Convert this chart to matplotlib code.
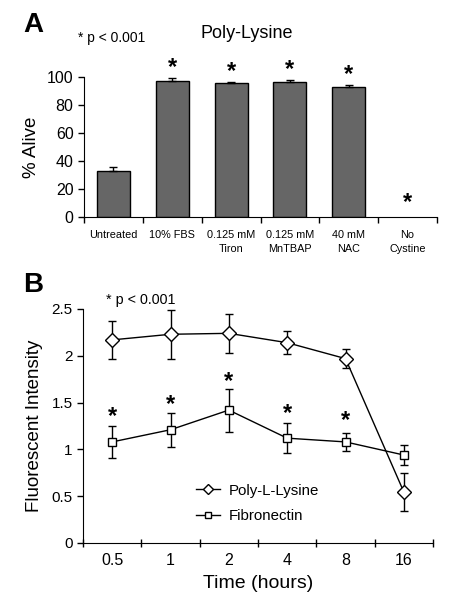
import matplotlib
matplotlib.use("Agg")
import matplotlib.pyplot as plt
from matplotlib.lines import Line2D
import numpy as np

plt.rcParams['font.family'] = ['Liberation Sans', 'DejaVu Sans']

# Panel A data
categories = ["Untreated", "10% FBS", "0.125 mM\nTiron", "0.125 mM\nMnTBAP", "40 mM\nNAC", "No\nCystine"]
alive = [33, 97.5, 95.5, 96.5, 93, 0]
alive_err = [3, 1.5, 0.6, 1.2, 1.5, 0]
alive_star = [None, 107, 103.6, 105, 102, 10]

# Panel B data
times = ["0.5", "1", "2", "4", "8", "16"]
pll = [2.17, 2.23, 2.24, 2.14, 1.97, 0.545]
pll_err = [0.20, 0.26, 0.21, 0.12, 0.10, 0.20]
fib = [1.08, 1.21, 1.42, 1.12, 1.08, 0.94]
fib_err = [0.17, 0.18, 0.23, 0.16, 0.10, 0.11]
fib_star = [1.35, 1.48, 1.73, 1.38, 1.31, None]

W, H = 455, 601
fig = plt.figure(figsize=(W/100, H/100), dpi=100)

def fx(px): return px / W
def fy(py): return 1 - py / H

# ---------------- Panel A ----------------
axA = fig.add_axes([fx(84), fy(217), fx(437) - fx(84), fy(77) - fy(217)])
x = np.arange(len(categories))
edges = ['black' if v > 0 else 'none' for v in alive]
axA.bar(x, alive, width=0.56, color='#666666', edgecolor=edges, linewidth=1.0, zorder=2)
idx = [i for i, e in enumerate(alive_err) if e > 0]
axA.errorbar([x[i] for i in idx], [alive[i] for i in idx],
             yerr=[np.zeros(len(idx)), [alive_err[i] for i in idx]], fmt='none', ecolor='black',
             elinewidth=1.0, capsize=3, capthick=1.0, zorder=3)
for xi, s in zip(x, alive_star):
    if s is not None:
        axA.text(xi, s, "*", ha='center', va='center', fontsize=17, fontweight='bold', clip_on=False)
axA.set_xlim(-0.5, len(categories) - 0.5)
axA.set_ylim(0, 100)
axA.set_yticks([0, 20, 40, 60, 80, 100])
axA.tick_params(axis='y', labelsize=11.5, direction='out', length=4, width=1)
axA.set_xticks(np.arange(-0.5, len(categories), 1.0))
axA.set_xticklabels([])
axA.tick_params(axis='x', which='major', direction='out', length=4, width=1)
axA.set_xticks(x, minor=True)
axA.set_xticklabels(categories, minor=True, fontsize=7.8, linespacing=1.55)
axA.tick_params(axis='x', which='minor', length=0, pad=9)
axA.spines['top'].set_visible(False)
axA.spines['right'].set_visible(False)
axA.set_ylabel("% Alive", fontsize=13.5, labelpad=5)

fig.text(fx(23), fy(25), "A", fontsize=20, fontweight='bold', ha='left', va='center')
fig.text(fx(78), fy(38), "* p < 0.001", fontsize=10, ha='left', va='center')
fig.text(fx(247), fy(33), "Poly-Lysine", fontsize=13, ha='center', va='center')

# ---------------- Panel B ----------------
axB = fig.add_axes([fx(83), fy(543), fx(433) - fx(83), fy(309) - fy(543)])
xb = np.arange(len(times))
axB.errorbar(xb, pll, yerr=pll_err, fmt='-', color='black', marker='D', markersize=7,
             markerfacecolor='white', markeredgecolor='black', markeredgewidth=1.0,
             linewidth=1.0, elinewidth=1.0, capsize=3, capthick=1.0, zorder=3)
axB.errorbar(xb, fib, yerr=fib_err, fmt='-', color='black', marker='s', markersize=6,
             markerfacecolor='white', markeredgecolor='black', markeredgewidth=1.0,
             linewidth=1.0, elinewidth=1.0, capsize=3, capthick=1.0, zorder=3)
for xi, s in zip(xb, fib_star):
    if s is not None:
        axB.text(xi, s, "*", ha='center', va='center', fontsize=17, fontweight='bold')
axB.set_xlim(-0.5, len(times) - 0.5)
axB.set_ylim(0, 2.5)
axB.set_yticks([0, 0.5, 1, 1.5, 2, 2.5])
axB.set_yticklabels(["0", "0.5", "1", "1.5", "2", "2.5"])
axB.tick_params(axis='y', labelsize=11, direction='out', length=4, width=1)
axB.set_xticks(np.arange(-0.5, len(times), 1.0))
axB.set_xticklabels([])
axB.tick_params(axis='x', which='major', direction='inout', length=6, width=1)
axB.set_xticks(xb, minor=True)
axB.set_xticklabels(times, minor=True, fontsize=11.5)
axB.tick_params(axis='x', which='minor', length=0, pad=7)
axB.spines['top'].set_visible(False)
axB.spines['right'].set_visible(False)
axB.set_ylabel("Fluorescent Intensity", fontsize=13.5, labelpad=6)
axB.set_xlabel("Time (hours)", fontsize=14, labelpad=5)

handles = [
    Line2D([], [], color='black', linewidth=1.0, marker='D', markersize=5.5,
           markerfacecolor='white', markeredgecolor='black', markeredgewidth=1.0),
    Line2D([], [], color='black', linewidth=1.0, marker='s', markersize=5,
           markerfacecolor='white', markeredgecolor='black', markeredgewidth=1.0),
]
axB.legend(handles, ["Poly-L-Lysine", "Fibronectin"], loc='center left',
           bbox_to_anchor=((190 - 83) / (433 - 83), 0.17),
           frameon=False, fontsize=10.8, handlelength=1.6, handletextpad=0.6, labelspacing=0.75,
           borderaxespad=0)

fig.text(fx(23), fy(285), "B", fontsize=20, fontweight='bold', ha='left', va='center')
fig.text(fx(106), fy(300), "* p < 0.001", fontsize=10.3, ha='left', va='center')

fig.savefig("out.png", dpi=100)
